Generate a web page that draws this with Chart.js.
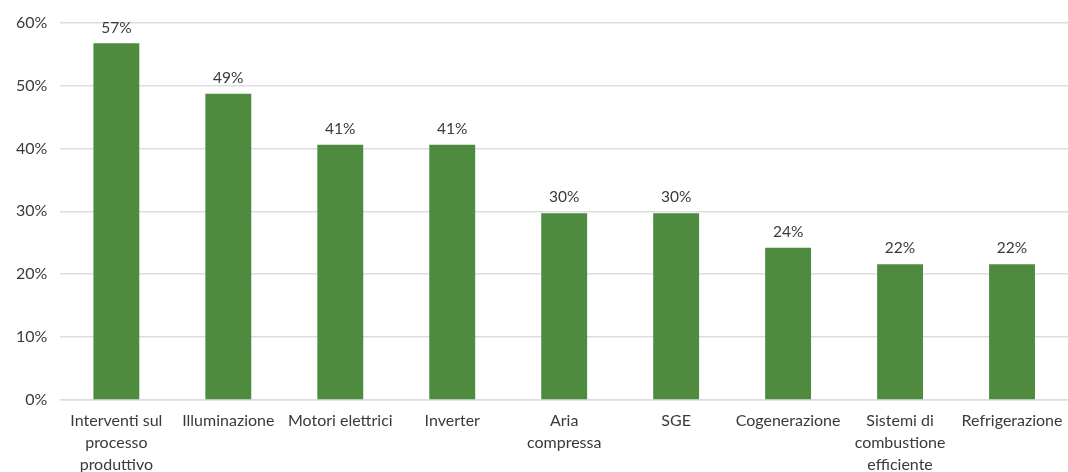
<!DOCTYPE html>
<html>
<head>
<meta charset="utf-8">
<script src="https://cdn.jsdelivr.net/npm/chart.js"></script>
<style>
  html, body { margin: 0; padding: 0; background: #fff; }
  #wrap { width: 1068px; height: 472px; position: relative; }
</style>
</head>
<body>
<div id="wrap"><canvas id="chart"></canvas></div>
<script>
// Categories (multi-line labels as in the original)
const categories = [
  ['Interventi sul', 'processo', 'produttivo'],
  'Illuminazione',
  'Motori elettrici',
  'Inverter',
  ['Aria', 'compressa'],
  'SGE',
  'Cogenerazione',
  ['Sistemi di', 'combustione', 'efficiente'],
  'Refrigerazione'
];

// Share of interventions (%)
const shares = [56.7, 48.7, 40.6, 40.6, 29.7, 29.7, 24.2, 21.6, 21.6];

// Printed value labels above the bars
const valueLabels = ['57%', '49%', '41%', '41%', '30%', '30%', '24%', '22%', '22%'];

const barColor = '#4e8b3f';
const textColor = '#3a3a3a';
const gridColor = '#dcdde2';

// Draws the value labels above each bar
const barLabels = {
  id: 'barLabels',
  afterDatasetsDraw(chart) {
    const ctx = chart.ctx;
    const meta = chart.getDatasetMeta(0);
    ctx.save();
    ctx.font = '15.5px Lato';
    ctx.fillStyle = textColor;
    ctx.textAlign = 'center';
    ctx.textBaseline = 'bottom';
    meta.data.forEach((bar, i) => {
      ctx.fillText(valueLabels[i], bar.x, bar.y - 8);
    });
    ctx.restore();
  }
};

new Chart(document.getElementById('chart'), {
  type: 'bar',
  data: {
    labels: categories,
    datasets: [{
      data: shares,
      backgroundColor: barColor,
      borderWidth: 0,
      barPercentage: 0.41,
      categoryPercentage: 1
    }]
  },
  options: {
    responsive: true,
    maintainAspectRatio: false,
    animation: false,
    layout: { padding: { top: 11, right: 0, left: 3, bottom: -14 } },
    plugins: {
      legend: { display: false },
      tooltip: { enabled: false }
    },
    scales: {
      x: {
        grid: { display: false, drawTicks: false },
        border: { color: gridColor, width: 1.5 },
        ticks: {
          color: textColor,
          font: { family: 'Lato', size: 16, lineHeight: 1.375 },
          padding: 10,
          maxRotation: 0,
          autoSkip: false
        },
        // let the plot run to the right edge like the original
        afterFit(scale) {
          scale.paddingRight = 0;
        }
      },
      y: {
        min: 0,
        max: 60,
        grid: { color: gridColor, lineWidth: 1.5, drawTicks: false },
        border: { display: false },
        ticks: {
          stepSize: 10,
          color: textColor,
          font: { family: 'Lato', size: 16 },
          padding: 13,
          callback: v => v + '%'
        }
      }
    }
  },
  plugins: [barLabels]
});
</script>
</body>
</html>
